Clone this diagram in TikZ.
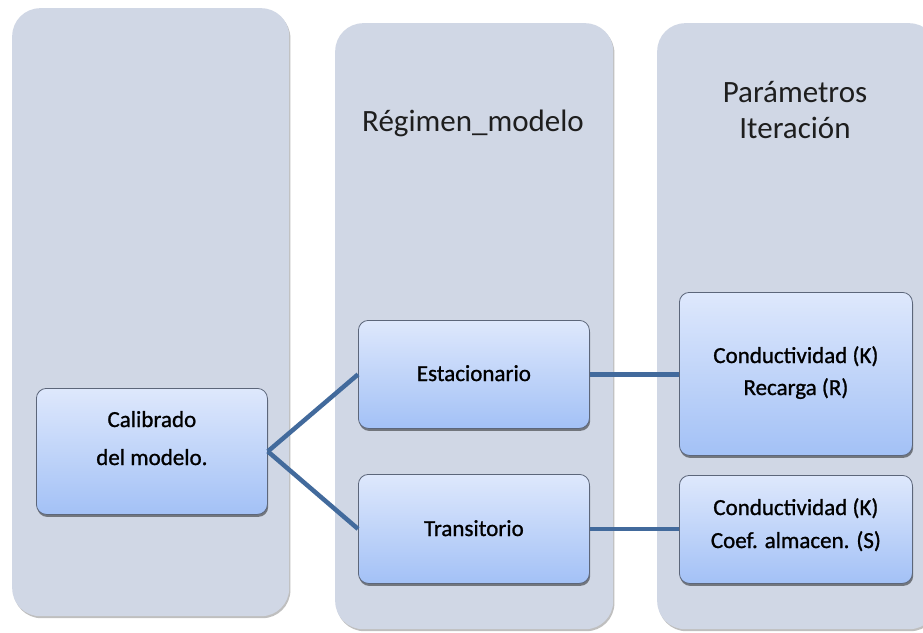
\documentclass[tikz,border=0pt]{standalone}
\usepackage{fontspec}
\setmainfont{Carlito}
\newfontfamily\boxfont{Carlito}[FakeBold=1]
\usetikzlibrary{shadows}
\definecolor{colbg}{RGB}{208,215,229}
\definecolor{boxtop}{RGB}{222,232,252}
\definecolor{boxbot}{RGB}{163,193,246}
\definecolor{boxedge}{RGB}{92,102,122}
\definecolor{linkc}{RGB}{66,106,156}
\definecolor{headtxt}{RGB}{30,30,30}
\tikzset{
  column/.style={fill=colbg, rounded corners=28pt, inner sep=0pt, anchor=north west,
    drop shadow={shadow xshift=1.2pt, shadow yshift=-2pt, opacity=0.25, fill=black}},
  itembox/.style={draw=boxedge, line width=0.8pt, top color=boxtop, bottom color=boxbot,
    rounded corners=10pt, inner sep=0pt, anchor=north west,
    drop shadow={shadow xshift=0.8pt, shadow yshift=-2.5pt, opacity=0.45, fill=black}},
  headtext/.style={anchor=base, inner sep=0pt, text=headtxt, font=\fontsize{31}{36}\selectfont},
  itemtext/.style={anchor=base, inner sep=0pt, text=black, font=\boxfont\fontsize{23}{28}\selectfont},
  linkline/.style={draw=linkc, line width=4.5pt}
}
\begin{document}
\begin{tikzpicture}[x=1pt, y=-1pt]
\clip (0,0) rectangle (923,632);
\fill[white] (0,0) rectangle (923,632);
% columns
\node[column, minimum width=277pt, minimum height=608pt] (col1) at (12,8) {};
\node[column, minimum width=278pt, minimum height=606pt] (col2) at (335,23) {};
\node[column, minimum width=280pt, minimum height=606pt] (col3) at (657,23) {};
% headers
\node[headtext] (hreg) at (473,131.5) {Régimen\_modelo};
\node[headtext] (hpar) at (795,102) {Parámetros};
\node[headtext] (hite) at (795,138) {Iteración};
% item boxes
\node[itembox, minimum width=231pt, minimum height=126pt] (cal) at (36,388) {};
\node[itembox, minimum width=231pt, minimum height=108pt] (est) at (358,320) {};
\node[itembox, minimum width=231pt, minimum height=109pt] (tra) at (358,474) {};
\node[itembox, minimum width=233pt, minimum height=163pt] (pa) at (679,292) {};
\node[itembox, minimum width=233pt, minimum height=108pt] (pb) at (679,475) {};
% connectors
\draw[linkline] (cal.east) -- (est.west);
\draw[linkline] (cal.east) -- (tra.west);
\draw[linkline] (est.east) -- (est.east -| pa.west);
\draw[linkline] (tra.east) -- (tra.east -| pb.west);
% item texts
\node[itemtext] (tcal1) at (cal.center |- 0,427) {Calibrado};
\node[itemtext] (tcal2) at (cal.center |- 0,465) {del modelo.};
\node[itemtext] (test) at (est.center |- 0,381) {Estacionario};
\node[itemtext] (ttra) at (tra.center |- 0,536) {Transitorio};
\node[itemtext] (tpa1) at (pa.center |- 0,363) {Conductividad (K)};
\node[itemtext] (tpa2) at (pa.center |- 0,395) {Recarga (R)};
\node[itemtext] (tpb1) at (pb.center |- 0,515) {Conductividad (K)};
\node[itemtext] (tpb2) at (pb.center |- 0,548) {Coef. almacen. (S)};
\end{tikzpicture}
\end{document}
